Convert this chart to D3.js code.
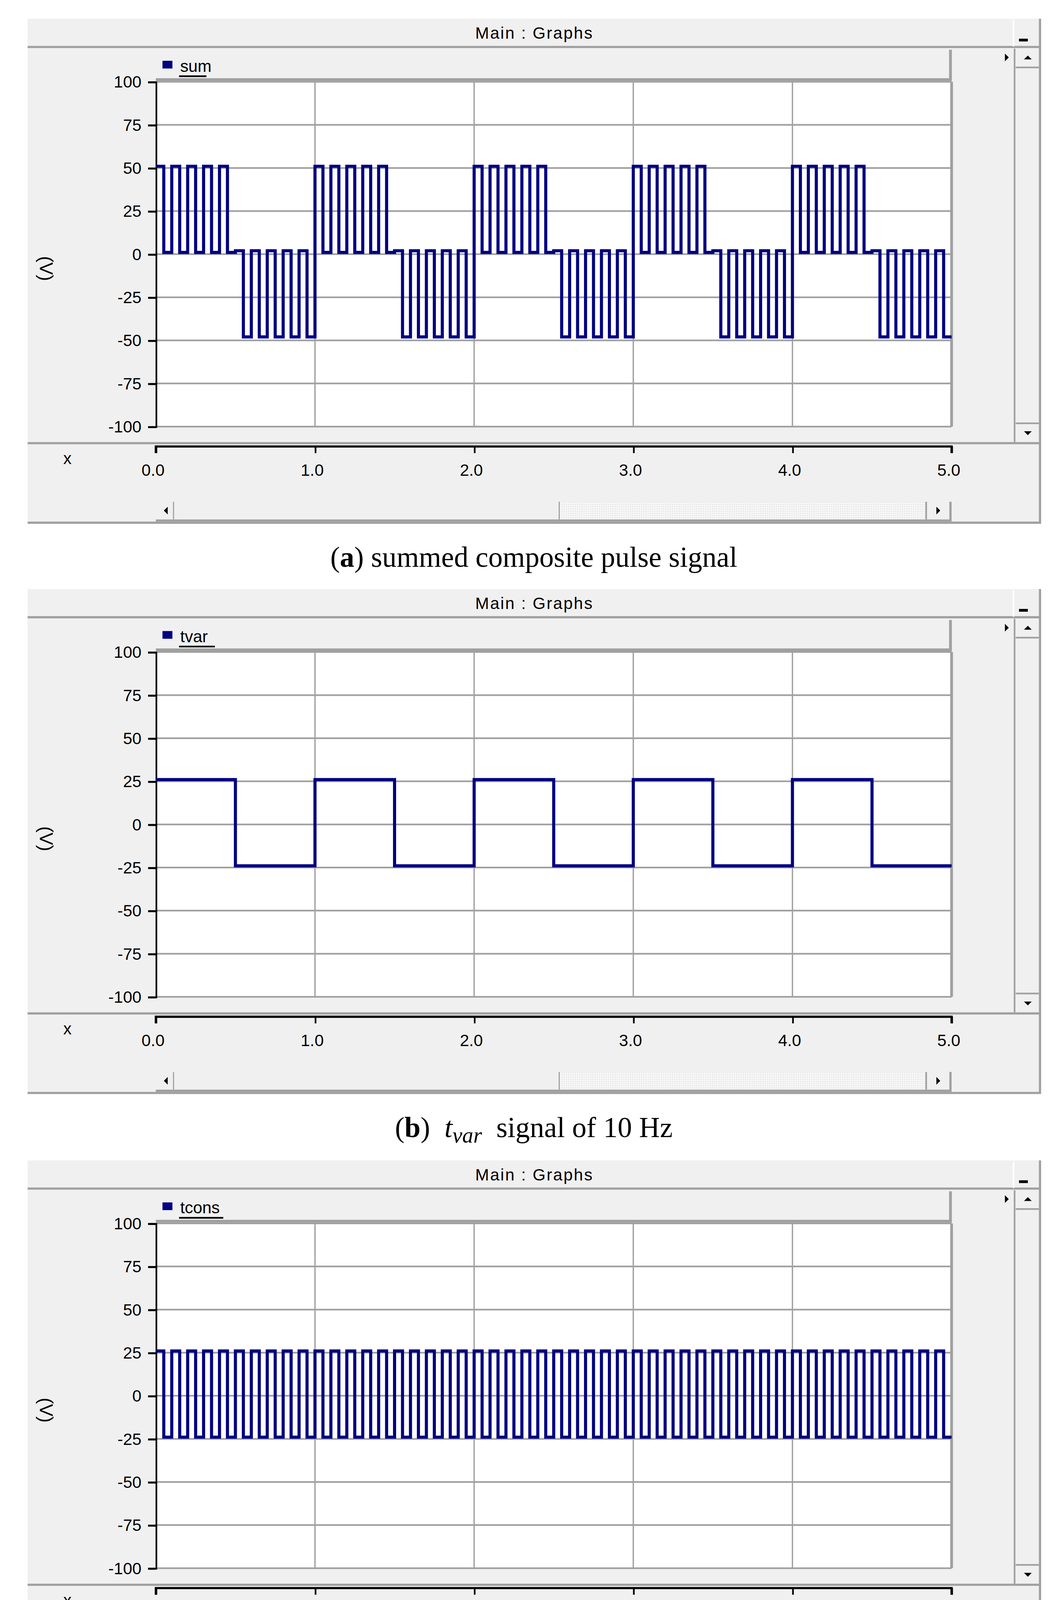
<!DOCTYPE html>
<html>
<head>
<meta charset="utf-8">
<script src="https://cdn.jsdelivr.net/npm/d3@7"></script>
<style>
  html, body { margin: 0; padding: 0; background: #fff; overflow: hidden; }
  svg { display: block; }
</style>
</head>
<body>
<svg id="canvas" viewBox="0 0 960 1567"></svg>
<script>
// time step of the recorded samples (s)
const STEP = 0.05;

// summed composite pulse, one value per 0.05 s
const sumValues = [
  51, 1, 51, 1, 51, 1, 51, 1, 51, 1, 2, -48, 2, -48, 2, -48, 2, -48, 2, -48,
  51, 1, 51, 1, 51, 1, 51, 1, 51, 1, 2, -48, 2, -48, 2, -48, 2, -48, 2, -48,
  51, 1, 51, 1, 51, 1, 51, 1, 51, 1, 2, -48, 2, -48, 2, -48, 2, -48, 2, -48,
  51, 1, 51, 1, 51, 1, 51, 1, 51, 1, 2, -48, 2, -48, 2, -48, 2, -48, 2, -48,
  51, 1, 51, 1, 51, 1, 51, 1, 51, 1, 2, -48, 2, -48, 2, -48, 2, -48, 2, -48
];

// tvar, one value per 0.5 s
const tvarValues = [26, -24, 26, -24, 26, -24, 26, -24, 26, -24];

// tcons, one value per 0.05 s
const tconsValues = [
  26, -24, 26, -24, 26, -24, 26, -24, 26, -24, 26, -24, 26, -24, 26, -24, 26, -24, 26, -24,
  26, -24, 26, -24, 26, -24, 26, -24, 26, -24, 26, -24, 26, -24, 26, -24, 26, -24, 26, -24,
  26, -24, 26, -24, 26, -24, 26, -24, 26, -24, 26, -24, 26, -24, 26, -24, 26, -24, 26, -24,
  26, -24, 26, -24, 26, -24, 26, -24, 26, -24, 26, -24, 26, -24, 26, -24, 26, -24, 26, -24,
  26, -24, 26, -24, 26, -24, 26, -24, 26, -24, 26, -24, 26, -24, 26, -24, 26, -24, 26, -24
];

const yTicks = [100, 75, 50, 25, 0, -25, -50, -75, -100];
const xTicks = [0, 1, 2, 3, 4, 5];

const panels = [
  {name: "sum", values: sumValues, step: STEP, top: 0, letter: "a", sub: null, text: " summed composite pulse signal", capY: 513},
  {name: "tvar", values: tvarValues, step: 0.5, top: 516, letter: "b", sub: "var", text: "signal of 10 Hz", capY: 1029},
  {name: "tcons", values: tconsValues, step: STEP, top: 1033, letter: "c", sub: "cons", text: "signal of 1 Hz", capY: 1545}
];

const GRAY = "#a0a0a0";
const PANEL = "#f0f0f0";
const UI_FONT = "'Liberation Sans', Arial, sans-serif";
const SERIF = "'Liberation Serif', 'DejaVu Serif', serif";

const W = window.innerWidth;
const svg = d3.select("#canvas").attr("width", W).attr("height", W * 1567 / 960);

const defs = svg.append("defs");
const pat = defs.append("pattern").attr("id", "hatch").attr("width", 2).attr("height", 2)
  .attr("patternUnits", "userSpaceOnUse");
pat.append("rect").attr("width", 2).attr("height", 2).attr("fill", "#f7f7f7");
pat.append("rect").attr("width", 1).attr("height", 1).attr("fill", "#e4e4e4");

const x = d3.scaleLinear().domain([0, 5]).range([141, 861]);
const y = d3.scaleLinear().domain([-100, 100]).range([386, 74]);

function tri(g, cx, cy, dir) {
  const s = 3.5;
  let pts;
  if (dir === "up") pts = [[cx - s, cy + s / 2], [cx + s, cy + s / 2], [cx, cy - s / 2]];
  else if (dir === "down") pts = [[cx - s, cy - s / 2], [cx + s, cy - s / 2], [cx, cy + s / 2]];
  else if (dir === "left") pts = [[cx + s / 2, cy - s], [cx + s / 2, cy + s], [cx - s / 2, cy]];
  else pts = [[cx - s / 2, cy - s], [cx - s / 2, cy + s], [cx + s / 2, cy]];
  g.append("polygon").attr("points", pts.map(p => p.join(",")).join(" ")).attr("fill", "#000");
}

function drawPanel(p) {
  const g = svg.append("g").attr("transform", "translate(0," + p.top + ")");

  // window frame
  g.append("rect").attr("x", 25).attr("y", 17).attr("width", 916).attr("height", 456).attr("fill", PANEL);
  g.append("path").attr("d", "M941,17 V473 H25").attr("fill", "none").attr("stroke", GRAY).attr("stroke-width", 2);
  g.append("line").attr("x1", 25).attr("x2", 941).attr("y1", 42.5).attr("y2", 42.5).attr("stroke", GRAY).attr("stroke-width", 2);
  g.append("text").attr("x", 483).attr("y", 35).attr("text-anchor", "middle")
    .attr("font-family", UI_FONT).attr("font-size", 15).attr("textLength", 106).text("Main : Graphs");

  // minimise button
  g.append("line").attr("x1", 917).attr("x2", 917).attr("y1", 18).attr("y2", 42).attr("stroke", "#fff").attr("stroke-width", 1.5);
  g.append("rect").attr("x", 922).attr("y", 35).attr("width", 8).attr("height", 2.5).attr("fill", "#000");

  // legend bar
  g.append("rect").attr("x", 141).attr("y", 45).attr("width", 720).attr("height", 27).attr("fill", PANEL);
  g.append("path").attr("d", "M141,72 H860 V45").attr("fill", "none").attr("stroke", GRAY).attr("stroke-width", 2.5);
  g.append("rect").attr("x", 147).attr("y", 55).attr("width", 9).attr("height", 7).attr("fill", "#000080");
  g.append("text").attr("x", 163).attr("y", 65).attr("font-family", UI_FONT).attr("font-size", 15).text(p.name);
  g.append("line").attr("x1", 162).attr("x2", 164 + p.name.length * 7.6).attr("y1", 69).attr("y2", 69)
    .attr("stroke", "#000").attr("stroke-width", 1.5);
  tri(g, 911, 52, "right");

  // plot area
  g.append("rect").attr("x", 141).attr("y", 74).attr("width", 720).attr("height", 312).attr("fill", "#fff");

  g.append("g").selectAll("line").data(yTicks).join("line")
    .attr("x1", 141).attr("x2", 861).attr("y1", d => y(d)).attr("y2", d => y(d))
    .attr("stroke", GRAY).attr("stroke-width", 1.5);
  g.append("g").selectAll("line").data(xTicks.slice(1)).join("line")
    .attr("x1", d => x(d)).attr("x2", d => x(d)).attr("y1", 74).attr("y2", 386)
    .attr("stroke", GRAY).attr("stroke-width", d => d === 5 ? 2.5 : 1.2);

  // y axis
  const yAxis = d3.axisLeft(y).tickValues(yTicks).tickSize(7).tickPadding(6).tickFormat(d => String(d));
  const ya = g.append("g").attr("transform", "translate(141,0)").call(yAxis);
  ya.select(".domain").attr("stroke", "#000").attr("stroke-width", 1.5);
  ya.selectAll(".tick line").attr("stroke", "#000").attr("stroke-width", 1.8);
  ya.selectAll("text").attr("font-family", UI_FONT).attr("font-size", 15).attr("fill", "#000");
  g.append("text").attr("transform", "translate(36,243) rotate(90)").attr("text-anchor", "middle")
    .attr("font-family", UI_FONT).attr("font-size", 17).text("(V)");

  // signal
  const pts = p.values.map((v, i) => [i * p.step, v]);
  pts.push([p.values.length * p.step, p.values[p.values.length - 1]]);
  const line = d3.line().x(d => x(d[0])).y(d => y(d[1])).curve(d3.curveStepAfter);
  g.append("path").datum(pts).attr("d", line).attr("fill", "none")
    .attr("stroke", "#000080").attr("stroke-width", 2.8).attr("stroke-linejoin", "miter");

  // vertical scrollbar
  g.append("line").attr("x1", 918).attr("x2", 918).attr("y1", 44).attr("y2", 400).attr("stroke", GRAY).attr("stroke-width", 1.5);
  g.append("line").attr("x1", 919).attr("x2", 940).attr("y1", 61).attr("y2", 61).attr("stroke", GRAY).attr("stroke-width", 1.5);
  g.append("line").attr("x1", 919).attr("x2", 940).attr("y1", 383).attr("y2", 383).attr("stroke", GRAY).attr("stroke-width", 1.5);
  tri(g, 930, 52, "up");
  tri(g, 930, 392, "down");

  g.append("line").attr("x1", 25).attr("x2", 941).attr("y1", 401).attr("y2", 401).attr("stroke", GRAY).attr("stroke-width", 2);

  // x axis
  const xAxis = d3.axisBottom(x).tickValues(xTicks).tickSize(6).tickPadding(10).tickFormat(d3.format(".1f"));
  const xa = g.append("g").attr("transform", "translate(0,404)").call(xAxis);
  xa.select(".domain").attr("stroke", "#000").attr("stroke-width", 2).attr("d", "M141,6V0H861V6");
  xa.selectAll(".tick line").attr("stroke", "#000").attr("stroke-width", 1.5);
  xa.selectAll("text").attr("font-family", UI_FONT).attr("font-size", 15).attr("fill", "#000").attr("dx", -3);
  g.append("text").attr("x", 61).attr("y", 420).attr("text-anchor", "middle")
    .attr("font-family", UI_FONT).attr("font-size", 15).text("x");

  // horizontal scrollbar
  g.append("rect").attr("x", 506).attr("y", 454).attr("width", 332).attr("height", 16).attr("fill", "url(#hatch)");
  g.append("path").attr("d", "M141,471 H860 V454").attr("fill", "none").attr("stroke", GRAY).attr("stroke-width", 2);
  g.append("line").attr("x1", 157).attr("x2", 157).attr("y1", 454).attr("y2", 470).attr("stroke", GRAY).attr("stroke-width", 1);
  g.append("line").attr("x1", 506).attr("x2", 506).attr("y1", 454).attr("y2", 470).attr("stroke", GRAY).attr("stroke-width", 1);
  g.append("line").attr("x1", 838).attr("x2", 838).attr("y1", 454).attr("y2", 470).attr("stroke", GRAY).attr("stroke-width", 1.5);
  tri(g, 150, 462, "left");
  tri(g, 849, 462, "right");

  // caption
  const cap = svg.append("text").attr("x", 483).attr("y", p.capY).attr("text-anchor", "middle")
    .attr("font-family", SERIF).attr("font-size", 26).attr("fill", "#000");
  cap.append("tspan").text("(");
  cap.append("tspan").attr("font-weight", "bold").text(p.letter);
  cap.append("tspan").text(")");
  if (p.sub) {
    cap.append("tspan").attr("font-style", "italic").text("\u2002t");
    cap.append("tspan").attr("font-style", "italic").attr("font-size", 20).attr("dy", 5).text(p.sub);
    cap.append("tspan").attr("dy", -5).text("\u2002" + p.text);
  } else {
    cap.append("tspan").text(p.text);
  }
}

panels.forEach(drawPanel);
</script>
</body>
</html>
